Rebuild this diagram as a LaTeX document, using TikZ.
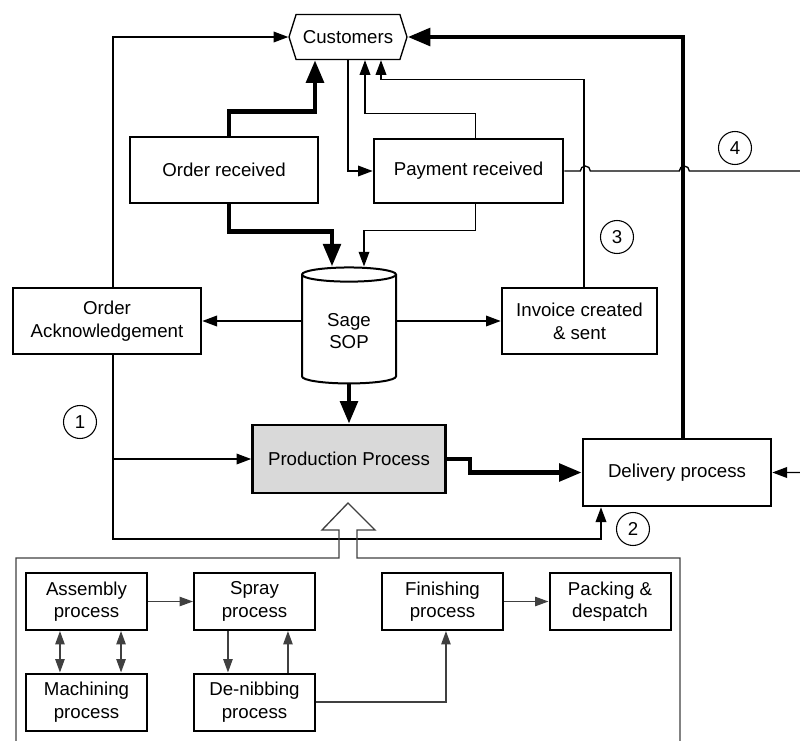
\documentclass[tikz,border=0pt]{standalone}
\usepackage{fontspec}
\setmainfont{Liberation Sans}
\usetikzlibrary{shapes,arrows.meta,positioning}

\tikzset{
  every node/.style={font=\fontsize{14}{17}\selectfont},
  box/.style={draw, line width=2pt, align=center, inner sep=2pt},
  subbox/.style={draw, line width=1.5pt, align=center, inner sep=1pt,
    minimum width=90.75pt, minimum height=42.75pt},
  num/.style={draw, circle, line width=0.8pt, minimum size=24.75pt, inner sep=0pt},
  flow/.style={line width=1pt, -{Triangle[length=11pt,width=8pt]}},
  mainflow/.style={line width=3.5pt, -{Triangle[length=17pt,width=13pt]}},
  subflow/.style={line width=1pt, draw=black!75, -{Triangle[length=10pt,width=7pt]}},
  bothflow/.style={line width=1pt, draw=black!75,
    {Triangle[length=10pt,width=7pt]}-{Triangle[length=10pt,width=7pt]}},
}

\begin{document}
\begin{tikzpicture}[x=0.75pt,y=-0.75pt]
\useasboundingbox (0,0) rectangle (800,740);

% main flow nodes
\node[draw, line width=1pt, signal, signal to=west and east, signal pointer angle=145,
  minimum width=88.5pt, minimum height=33.75pt] (cust) at (348,37) {Customers};
\node[box, minimum width=141pt, minimum height=49.5pt] (order) at (224,170) {Order received};
\node[box, minimum width=141.75pt, minimum height=48pt] (pay) at (468.5,171) {Payment received};
\node[cylinder, draw, line width=1.5pt, shape border rotate=90, aspect=0.27, align=center,
  minimum width=70.5pt, minimum height=87pt] (sage) at (349,331) {Sage\\SOP};
\node[box, minimum width=141pt, minimum height=49.5pt] (ack) at (107,321) {Order\\Acknowledgement};
\node[box, minimum width=116.25pt, minimum height=49.5pt] (inv) at (579.5,321) {Invoice created\\\& sent};
\node[box, fill=black!15, minimum width=144.75pt, minimum height=51pt] (prod) at (349,459) {Production Process};
\node[box, minimum width=141pt, minimum height=50.25pt] (deliv) at (677,472.5) {Delivery process};

% numbered markers
\node[num] (n1) at (80,422) {1};
\node[num] (n2) at (633,529) {2};
\node[num] (n3) at (617,237) {3};
\node[num] (n4) at (735,148) {4};

% production sub-processes
\node[subbox] (asm) at (86.5,601.5) {Assembly\\process};
\node[subbox] (spray) at (254.5,601.5) {Spray\\process};
\node[subbox] (fin) at (442.5,601.5) {Finishing\\process};
\node[subbox] (pack) at (610,601.5) {Packing \&\\despatch};
\node[subbox] (mach) at (86.5,702) {Machining\\process};
\node[subbox] (denib) at (254.5,702) {De-nibbing\\process};

% thick connectors
\draw[mainflow] ([xshift=3.75pt]order.north) -- ++(0,-24) -| ([xshift=-24.75pt]cust.south);
\draw[mainflow] ([xshift=3.75pt]order.south) -- ++(0,27) -| ([xshift=-12.75pt]sage.north);
\draw[mainflow] (sage) -- (prod);
\draw[mainflow] (prod.east) -- ++(23,0) |- (deliv.west);
\draw[mainflow] ([xshift=4.5pt]deliv.north) |- (cust.east);

% thin connectors
\draw[flow] (cust.south) |- (pay.west);
\draw[flow] ([xshift=5pt]pay.north) -- ++(0,-24) -| ([xshift=12.75pt]cust.south);
\draw[flow] ([xshift=3.4pt]inv.north) -- ++(0,-207) -| ([xshift=24.75pt]cust.south);
\draw[flow] ([xshift=5pt]pay.south) -- ++(0,26) -| ([xshift=11.25pt]sage.north);
\draw[flow] (sage.west |- ack.east) -- (ack.east);
\draw[flow] (sage.east |- inv.west) -- (inv.west);
\draw[flow] ([xshift=4.5pt]ack.north) |- (cust.west);
\coordinate (ackdown) at (113,539);
\draw[flow] ([xshift=4.5pt]ack.south) -- (ackdown) -| ([xshift=-57pt]deliv.south);
\draw[flow] ([xshift=4.5pt]ack.south |- prod.west) -- (prod.west);
\draw[flow] (pay.east) -- ++(16,0) arc (180:360:5) -- ++(89,0) arc (180:360:5)
  -- (810,171) |- (deliv.east);

% sub-process frame with hollow arrow
\draw[draw=black!75, line width=1pt] (16,745) -- (16,558) -- (339,558) -- (339,530)
  -- (322,530) -- (348,503) -- (375,530) -- (357,530) -- (357,558) -- (680,558) -- (680,745);

% sub-process connectors
\draw[subflow] (asm) -- (spray);
\draw[bothflow] ([xshift=-19.9pt]asm.south) -- ([xshift=-19.9pt]mach.north);
\draw[bothflow] ([xshift=25.9pt]asm.south) -- ([xshift=25.9pt]mach.north);
\draw[subflow] ([xshift=-19.9pt]spray.south) -- ([xshift=-19.9pt]denib.north);
\draw[subflow] ([xshift=25.1pt]denib.north) -- ([xshift=25.1pt]spray.south);
\draw[subflow] (denib.east) -| ([xshift=2.6pt]fin.south);
\draw[subflow] (fin) -- (pack);
\end{tikzpicture}
\end{document}
